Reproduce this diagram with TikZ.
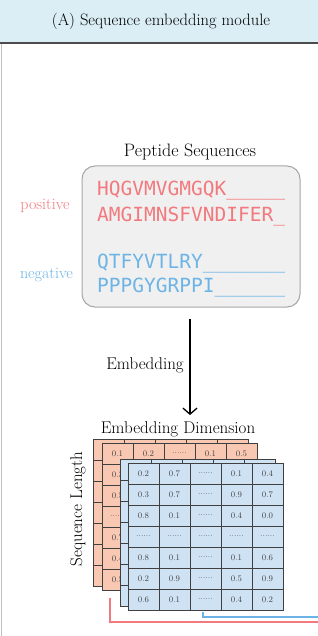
\documentclass[tikz,border=0pt]{standalone}
\usepackage{fontspec}
\newfontfamily\seqfont{DejaVu Sans Mono}
\usepackage{tikz}
\usetikzlibrary{arrows.meta, positioning}
\definecolor{posred}{HTML}{F27A7E}
\definecolor{negblue}{HTML}{6DB4E6}
\definecolor{headblue}{HTML}{DCEEF5}
\definecolor{cellred}{HTML}{F9C8B2}
\definecolor{cellblue}{HTML}{CFE2F3}
\definecolor{boxgray}{HTML}{F0F0F0}
\tikzset{
  cell/.style={rectangle, draw=black!75, line width=0.7pt, minimum width=31pt, minimum height=21pt, inner sep=0pt, font=\fontsize{8.5}{9}\selectfont, text=black!75},
  seq/.style={anchor=base west, inner sep=0pt, font=\seqfont\fontsize{19.5}{22}\selectfont},
  lbl/.style={inner sep=0pt, font=\fontsize{17}{20}\selectfont},
  side/.style={anchor=base, inner sep=0pt, font=\fontsize{16}{19}\selectfont},
  arr/.style={-{Straight Barb[length=6pt, width=14pt]}, line width=1.3pt},
  link/.style={line width=1.4pt},
}
\newcommand{\dd}{......}
% one empty layer of the embedding matrix, #1/#2 = top left corner
\newcommand{\emptylayer}[3]{%
  \foreach \r in {1,...,7}
    \foreach \c in {1,...,5}
      \node[cell, fill=#3] at ({#1+31*(\c-0.5)}, {#2+21*(\r-0.5)}) {};
}
\begin{document}
\begin{tikzpicture}[x=1pt, y=-1pt]
\useasboundingbox (0,0) rectangle (318,636);
\fill[white] (0,0) rectangle (318,636);

% header
\fill[headblue] (0,0) rectangle (318,43);
\draw[black!70, line width=1.6pt] (0,43) -- (318,43);
\draw[black!25, line width=1pt] (1,44) -- (1,636);
\node[inner sep=0pt, font=\fontsize{16.5}{20}\selectfont] (head) at (161,21) {(A) Sequence embedding module};

% peptide sequences
\node[lbl, font=\fontsize{18}{21}\selectfont] (pepttl) at (190,152) {Peptide Sequences};
\node[draw=black!35, line width=1pt, fill=boxgray, rounded corners=13pt, minimum width=218pt, minimum height=141pt] (seqbox) at (191,236.5) {};
\node[seq, text=posred] (pos1) at (97,196) {HQGVMVGMGQK\_\_\_\_\_};
\node[seq, text=posred] (pos2) at (97,221) {AMGIMNSFVNDIFER\_};
\node[seq, text=negblue] (neg1) at (97,268) {QTFYVTLRY\_\_\_\_\_\_\_};
\node[seq, text=negblue] (neg2) at (97,292) {PPPGYGRPPI\_\_\_\_\_\_};
\node[side, text=posred] (poslbl) at (45,210) {positive};
\node[side, text=negblue] (neglbl) at (46.5,278) {negative};

% embedding step
\coordinate (embend) at (190,415);
\draw[arr, shorten <=11pt] ([xshift=-1pt]seqbox.south) -- (embend);
\node[lbl, anchor=base east] (emb) at (184,369) {Embedding};
\node[lbl, anchor=base] (dimlbl) at (178,433) {Embedding Dimension};
\node[lbl, rotate=90] (lenlbl) at (78,509) {Sequence Length};

% red layers (only the visible values are written)
\emptylayer{93}{439}{cellred}
\emptylayer{102}{443}{cellred}
\foreach \v [count=\c] in {0.1,0.2,\dd,0.1,0.5}
  \node[cell, fill=cellred] (r-1-\c) at ({102+31*(\c-0.5)}, 453.5) {\v};
\foreach \v [count=\r from 2] in {0.3,0.5,\dd,0.7,0.4,0.5}
  \node[cell, fill=cellred] (r-\r-1) at (117.5, {443+21*(\r-0.5)}) {\v};

% blue layers
\emptylayer{120}{459}{cellblue}
\foreach \row [count=\r] in {{0.2,0.7,\dd,0.1,0.4},{0.3,0.7,\dd,0.9,0.7},{0.8,0.1,\dd,0.4,0.0},{\dd,\dd,\dd,\dd,\dd},{0.8,0.1,\dd,0.1,0.6},{0.2,0.9,\dd,0.5,0.9},{0.6,0.1,\dd,0.4,0.2}}
  \foreach \v [count=\c] in \row
    \node[cell, fill=cellblue] (b-\r-\c) at ({128+31*(\c-0.5)}, {463+21*(\r-0.5)}) {\v};

% links to the right
\coordinate (redstart) at (110,598);
\coordinate (redend) at (318,622);
\coordinate (bluestart) at (203,612);
\coordinate (blueend) at (318,617);
\draw[link, posred] (redstart) |- (redend);
\draw[link, negblue] (bluestart) |- (blueend);
\end{tikzpicture}
\end{document}
